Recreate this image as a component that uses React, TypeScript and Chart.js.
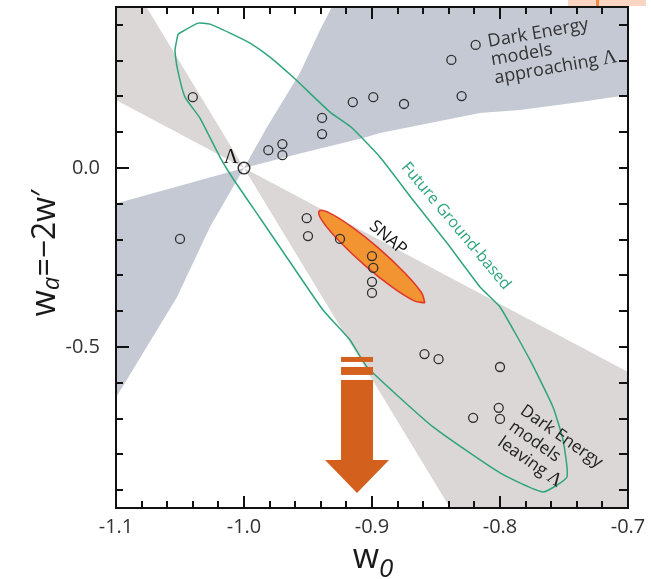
import React, { useEffect, useRef } from "react";
import { Chart, registerables } from "chart.js";

Chart.register(...registerables);

// ---------- axes ----------
const W0_MIN = -1.1;
const W0_MAX = -0.7;
const WA_MIN = -0.95;
const WA_MAX = 0.45;
const X_TICKS = [
  -1.1, -1.08, -1.06, -1.04, -1.02, -1.0, -0.98, -0.96, -0.94, -0.92, -0.9,
  -0.88, -0.86, -0.84, -0.82, -0.8, -0.78, -0.76, -0.74, -0.72, -0.7,
];
const Y_TICKS = [-0.9, -0.8, -0.7, -0.6, -0.5, -0.4, -0.3, -0.2, -0.1, 0.0, 0.1, 0.2, 0.3, 0.4];
const X_TICK_LABELS = [-1.1, -1.0, -0.9, -0.8, -0.7];
const Y_TICK_LABELS = [0.0, -0.5];
const X_TITLE = ["w", "0"];
const Y_TITLE = ["w", "a", "=\u22122w\u2032"];

// ---------- dark energy model points ----------
const MODEL_W0 = [
  -1.04, -0.981, -0.97, -0.97, -0.939, -0.939, -0.915, -0.899, -0.875, -0.838, -0.819, -0.83,
  -1.05, -0.951, -0.95, -0.925, -0.9, -0.899, -0.9, -0.9,
  -0.859, -0.848, -0.8, -0.821, -0.801, -0.8,
];
const MODEL_WA = [
  0.198, 0.05, 0.067, 0.036, 0.14, 0.095, 0.184, 0.198, 0.179, 0.302, 0.344, 0.201,
  -0.198, -0.14, -0.19, -0.198, -0.246, -0.279, -0.318, -0.349,
  -0.52, -0.534, -0.556, -0.698, -0.67, -0.701,
];
const LAMBDA_W0 = [-1.0];
const LAMBDA_WA = [0.0];

// ---------- SNAP contour ----------
const SNAP_W0 = [-0.8587, -0.867, -0.8842, -0.9056, -0.9255, -0.9386, -0.9413, -0.933, -0.9158, -0.8944, -0.8745, -0.8614, -0.8587];
const SNAP_WA = [-0.3768, -0.3712, -0.3327, -0.2718, -0.2045, -0.1492, -0.1204, -0.126, -0.1645, -0.2254, -0.2927, -0.348, -0.3768];

// ---------- Future ground-based contour ----------
const GROUND_W0 = [
  -1.0516, -1.0359, -1.0266, -1.0109, -0.9953, -0.9797, -0.9609, -0.9328, -0.9164, -0.8938,
  -0.868, -0.8414, -0.8156, -0.8, -0.7766, -0.7586, -0.7508, -0.7477, -0.7664, -0.8,
  -0.8523, -0.9039, -0.9172, -0.9383, -0.9641, -0.9875, -1.0094, -1.0188, -1.0344, -1.0461,
  -1.0523, -1.0539, -1.0516,
];
const GROUND_WA = [
  0.3743, 0.405, 0.4022, 0.3771, 0.3492, 0.3101, 0.2514, 0.1564, 0.1145, 0.0307,
  -0.0894, -0.2095, -0.3324, -0.3883, -0.5363, -0.6676, -0.7598, -0.8631, -0.905, -0.852,
  -0.7235, -0.5559, -0.4804, -0.3966, -0.2626, -0.1397, -0.0251, 0.0307, 0.1397, 0.1983,
  0.2821, 0.3296, 0.3743,
];

// ---------- "approaching Λ" band (blue) ----------
const APPROACH_UP_W0 = [-1.0, -0.982, -0.9563, -0.9406, -0.9242, -0.65, -0.65, -0.7, -0.7375, -0.7844, -0.8156, -0.8938, -0.907, -0.9563, -1.0];
const APPROACH_UP_WA = [0, 0.1145, 0.2654, 0.3855, 0.5, 0.5, 0.21, 0.2039, 0.1844, 0.162, 0.1536, 0.0978, 0.0838, 0.0408, 0];
const APPROACH_LO_W0 = [-1.0, -1.11, -1.11, -1.0523, -1.0266, -1.0];
const APPROACH_LO_WA = [0, -0.109, -0.7, -0.3603, -0.1648, 0];

// ---------- "leaving Λ" band (grey) ----------
const LEAVING_LO_W0 = [-1.0, -0.68, -0.68, -0.8305, -1.0];
const LEAVING_LO_WA = [0, -0.6078, -1.0, -1.0, 0];
const LEAVING_UP_W0 = [-1.0, -1.12, -1.12, -1.0847, -1.0];
const LEAVING_UP_WA = [0, 0.2279, 0.5, 0.5, 0];

// ---------- arrow annotation (data units) ----------
const ARROW_SHAFT_W0 = [-0.9242, -0.8992];
const ARROW_BARS_WA = [[-0.5279, -0.5419], [-0.5559, -0.5782]];
const ARROW_SHAFT_WA = [-0.5922, -0.8166];
const ARROW_HEAD_W0 = [-0.9367, -0.9117, -0.8867];
const ARROW_HEAD_WA = [-0.8156, -0.9078];

// ---------- text annotations ----------
const APPROACH_TEXT = ["Dark Energy", "models", "approaching \u039B"];
const LEAVING_TEXT = ["Dark Energy", "models", "leaving \u039B"];
const APPROACH_TEXT_POS = [-0.8094, 0.352];
const LEAVING_TEXT_POS = [-0.7828, -0.6732];
const SNAP_TEXT = "SNAP";
const SNAP_TEXT_POS = [-0.8875, -0.1955];
const GROUND_TEXT = "Future Ground-based";
const GROUND_TEXT_POS = [-0.8344, -0.162];
const LAMBDA_TEXT = "\u039B";
const LAMBDA_TEXT_POS = [-1.0102, 0.0279];

const SANS = '"Open Sans", "Noto Sans", "DejaVu Sans", sans-serif';
const SERIF = '"Liberation Serif", "DejaVu Serif", serif';

const BLUE = "#c4c9d3";
const GREY = "#dad7d6";
const GREEN = "#2fa57c";
const SNAP_FILL = "#f29432";
const SNAP_EDGE = "#e1392b";
const ARROW_COLOR = "#d3611d";
const INK = "#2e2e2e";

const xy = (xs: number[], ys: number[]) => xs.map((x, i) => ({ x, y: ys[i] }));

const near = (v: number, t: number) => Math.abs(v - t) < 1e-6;

function drawLines(
  ctx: CanvasRenderingContext2D,
  lines: string[],
  x: number,
  y: number,
  angle: number,
  size: number,
  lh: number,
  color: string
) {
  ctx.save();
  ctx.translate(x, y);
  ctx.rotate((angle * Math.PI) / 180);
  ctx.fillStyle = color;
  ctx.textBaseline = "middle";
  ctx.textAlign = "left";
  lines.forEach((ln, i) => {
    const ty = i * lh;
    if (ln.endsWith("\u039B")) {
      const pre = ln.slice(0, -1);
      ctx.font = `${size}px ${SANS}`;
      ctx.fillText(pre, 0, ty);
      const w = ctx.measureText(pre).width;
      ctx.font = `${size + 2}px ${SERIF}`;
      ctx.fillText("\u039B", w, ty);
    } else {
      ctx.font = `${size}px ${SANS}`;
      ctx.fillText(ln, 0, ty);
    }
  });
  ctx.restore();
}

function drawCentered(
  ctx: CanvasRenderingContext2D,
  text: string,
  x: number,
  y: number,
  angle: number,
  font: string,
  color: string
) {
  ctx.save();
  ctx.translate(x, y);
  ctx.rotate((angle * Math.PI) / 180);
  ctx.font = font;
  ctx.fillStyle = color;
  ctx.textAlign = "center";
  ctx.textBaseline = "middle";
  ctx.fillText(text, 0, 0);
  ctx.restore();
}

function drawTitle(
  ctx: CanvasRenderingContext2D,
  parts: { t: string; font: string; dy: number }[],
  cx: number,
  cy: number,
  angle: number
) {
  ctx.save();
  ctx.translate(cx, cy);
  ctx.rotate((angle * Math.PI) / 180);
  ctx.fillStyle = "#1a1a1a";
  ctx.textBaseline = "alphabetic";
  ctx.textAlign = "left";
  let total = 0;
  const widths = parts.map((p) => {
    ctx.font = p.font;
    const w = ctx.measureText(p.t).width;
    total += w;
    return w;
  });
  let x = -total / 2;
  parts.forEach((p, i) => {
    ctx.font = p.font;
    ctx.fillText(p.t, x, p.dy);
    x += widths[i];
  });
  ctx.restore();
}

const annotPlugin = {
  id: "annot",
  afterDatasetsDraw(chart: any) {
    const { ctx } = chart;
    const xs = chart.scales.x;
    const ys = chart.scales.y;
    const X = (v: number) => xs.getPixelForValue(v);
    const Y = (v: number) => ys.getPixelForValue(v);
    ctx.save();
    // arrow
    ctx.fillStyle = ARROW_COLOR;
    const [l, r] = ARROW_SHAFT_W0;
    ARROW_BARS_WA.forEach(([a, b]) => {
      ctx.fillRect(X(l), Y(a), X(r) - X(l), Y(b) - Y(a));
    });
    ctx.fillRect(X(l), Y(ARROW_SHAFT_WA[0]), X(r) - X(l), Y(ARROW_SHAFT_WA[1]) - Y(ARROW_SHAFT_WA[0]));
    ctx.beginPath();
    ctx.moveTo(X(ARROW_HEAD_W0[0]), Y(ARROW_HEAD_WA[0]));
    ctx.lineTo(X(ARROW_HEAD_W0[2]), Y(ARROW_HEAD_WA[0]));
    ctx.lineTo(X(ARROW_HEAD_W0[1]), Y(ARROW_HEAD_WA[1]));
    ctx.closePath();
    ctx.fill();

    // texts
    drawLines(ctx, APPROACH_TEXT, X(APPROACH_TEXT_POS[0]), Y(APPROACH_TEXT_POS[1]), -10, 18, 18.5, "#333");
    drawLines(ctx, LEAVING_TEXT, X(LEAVING_TEXT_POS[0]), Y(LEAVING_TEXT_POS[1]), 35, 17, 19.5, "#222");
    drawCentered(ctx, SNAP_TEXT, X(SNAP_TEXT_POS[0]), Y(SNAP_TEXT_POS[1]), 40, `17px ${SANS}`, "#111");
    drawCentered(ctx, GROUND_TEXT, X(GROUND_TEXT_POS[0]), Y(GROUND_TEXT_POS[1]), 50, `16px ${SANS}`, GREEN);
    drawCentered(ctx, LAMBDA_TEXT, X(LAMBDA_TEXT_POS[0]), Y(LAMBDA_TEXT_POS[1]), 0, `20px ${SERIF}`, "#111");

    // frame and inward ticks (filled rectangles)
    const L = Math.round(X(W0_MIN));
    const R = Math.round(X(W0_MAX));
    const T = Math.round(Y(WA_MAX));
    const B = Math.round(Y(WA_MIN));
    ctx.fillStyle = "#111";
    ctx.globalAlpha = 1;
    X_TICKS.forEach((v) => {
      const major = X_TICK_LABELS.some((t) => near(t, v));
      const len = major ? 12 : 7;
      const px = Math.round(X(v));
      ctx.fillRect(px - 1, B - len, 2, len);
      ctx.fillRect(px - 1, T, 2, len);
    });
    Y_TICKS.forEach((v) => {
      const major = Y_TICK_LABELS.some((t) => near(t, v));
      const py = Math.round(Y(v));
      const len = major ? 13 : 7;
      ctx.fillRect(L, py - 1, len, 2);
      ctx.fillRect(R - 9, py - 1, 9, 2);
    });
    ctx.fillRect(L - 1, T - 1, 2, B - T + 2);
    ctx.fillRect(R - 1, T - 1, 2, B - T + 2);
    ctx.fillRect(L - 1, T - 1, R - L + 2, 2);
    ctx.fillRect(L - 1, B - 1, R - L + 2, 2);
    ctx.restore();
  },
  afterDraw(chart: any) {
    const { ctx, chartArea: a } = chart;
    ctx.save();
    drawTitle(
      ctx,
      [
        { t: X_TITLE[0], font: `34px ${SANS}`, dy: 0 },
        { t: X_TITLE[1], font: `italic 26px ${SANS}`, dy: 9 },
      ],
      (a.left + a.right) / 2 + 1,
      568,
      0
    );
    drawTitle(
      ctx,
      [
        { t: Y_TITLE[0], font: `34px ${SANS}`, dy: 0 },
        { t: Y_TITLE[1], font: `italic 24px ${SANS}`, dy: 4 },
        { t: Y_TITLE[2], font: `32px ${SANS}`, dy: 0 },
      ],
      55,
      253,
      -90
    );
    ctx.restore();
  },
};

export default function App() {
  const ref = useRef<HTMLCanvasElement | null>(null);

  useEffect(() => {
    if (!ref.current) return;
    const chart = new Chart(ref.current, {
      type: "scatter",
      data: {
        datasets: [
          {
            label: "Models",
            data: xy(MODEL_W0, MODEL_WA),
            pointRadius: 4.5,
            pointBorderWidth: 1.3,
            borderColor: INK,
            backgroundColor: "rgba(0,0,0,0)",
            order: 0,
          } as any,
          {
            label: "Lambda",
            data: xy(LAMBDA_W0, LAMBDA_WA),
            pointRadius: 5.8,
            pointBorderWidth: 1.4,
            borderColor: INK,
            backgroundColor: "rgba(0,0,0,0)",
            order: 0,
          } as any,
          {
            label: "SNAP",
            data: xy(SNAP_W0, SNAP_WA),
            showLine: true,
            fill: "shape",
            tension: 0.4,
            borderColor: SNAP_EDGE,
            borderWidth: 1.6,
            backgroundColor: SNAP_FILL,
            pointRadius: 0,
            order: 1,
          } as any,
          {
            label: "Future Ground-based",
            data: xy(GROUND_W0, GROUND_WA),
            showLine: true,
            fill: false,
            tension: 0.15,
            borderColor: GREEN,
            borderWidth: 1.5,
            pointRadius: 0,
            order: 2,
          } as any,
          {
            label: "Leaving lower",
            data: xy(LEAVING_LO_W0, LEAVING_LO_WA),
            showLine: true,
            fill: "shape",
            borderWidth: 0,
            borderColor: "rgba(0,0,0,0)",
            backgroundColor: GREY,
            pointRadius: 0,
            order: 3,
          } as any,
          {
            label: "Leaving upper",
            data: xy(LEAVING_UP_W0, LEAVING_UP_WA),
            showLine: true,
            fill: "shape",
            borderWidth: 0,
            borderColor: "rgba(0,0,0,0)",
            backgroundColor: GREY,
            pointRadius: 0,
            order: 3,
          } as any,
          {
            label: "Approaching upper",
            data: xy(APPROACH_UP_W0, APPROACH_UP_WA),
            showLine: true,
            fill: "shape",
            borderWidth: 0,
            borderColor: "rgba(0,0,0,0)",
            backgroundColor: BLUE,
            pointRadius: 0,
            order: 4,
          } as any,
          {
            label: "Approaching lower",
            data: xy(APPROACH_LO_W0, APPROACH_LO_WA),
            showLine: true,
            fill: "shape",
            borderWidth: 0,
            borderColor: "rgba(0,0,0,0)",
            backgroundColor: BLUE,
            pointRadius: 0,
            order: 4,
          } as any,
        ],
      },
      options: {
        animation: false,
        responsive: false,
        maintainAspectRatio: false,
        layout: { autoPadding: false, padding: { top: 7, right: 23, left: 0, bottom: 0 } },
        plugins: { legend: { display: false }, tooltip: { enabled: false } },
        scales: {
          x: {
            type: "linear",
            min: W0_MIN,
            max: W0_MAX,
            grid: { display: false, drawTicks: false },
            border: { display: false },
            afterBuildTicks: (s: any) => {
              s.ticks = X_TICKS.map((v) => ({ value: v }));
            },
            afterFit: (s: any) => {
              s.height = 71;
              s.paddingLeft = 0;
              s.paddingRight = 0;
            },
            ticks: {
              autoSkip: false,
              maxRotation: 0,
              padding: 7,
              color: "#333",
              font: { family: SANS, size: 20 },
              callback: (v: any) => {
                const n = Number(v);
                return X_TICK_LABELS.some((t) => near(t, n)) ? n.toFixed(1) : "";
              },
            },
          },
          y: {
            type: "linear",
            min: WA_MIN,
            max: WA_MAX,
            grid: { display: false, drawTicks: false },
            border: { display: false },
            afterBuildTicks: (s: any) => {
              s.ticks = Y_TICKS.map((v) => ({ value: v }));
            },
            afterFit: (s: any) => {
              s.width = 116;
              s.paddingTop = 0;
              s.paddingBottom = 0;
            },
            ticks: {
              autoSkip: false,
              padding: 16,
              color: "#333",
              font: { family: SANS, size: 20 },
              callback: (v: any) => {
                const n = Number(v);
                return Y_TICK_LABELS.some((t) => near(t, n)) ? n.toFixed(1) : "";
              },
            },
          },
        },
      } as any,
      plugins: [annotPlugin],
    });
    return () => chart.destroy();
  }, []);

  return (
    <div style={{ position: "fixed", left: 0, top: 0, width: 651, height: 579, background: "#fff" }}>
      <canvas ref={ref} width={651} height={579} style={{ width: 651, height: 579, display: "block" }} />
      <div style={{ position: "absolute", left: 568, top: 0, width: 78, height: 6, background: "#f9d5c2" }} />
      <div style={{ position: "absolute", left: 596, top: 0, width: 3, height: 6, background: "#f08a40" }} />
    </div>
  );
}
